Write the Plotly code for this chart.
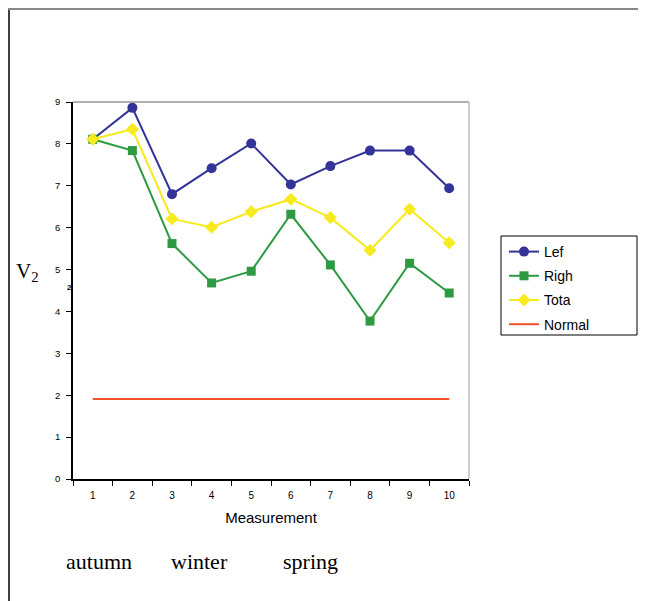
import plotly.graph_objects as go

measurements = [1, 2, 3, 4, 5, 6, 7, 8, 9, 10]
lef = [8.11, 8.86, 6.80, 7.42, 8.01, 7.03, 7.47, 7.84, 7.84, 6.94]
righ = [8.11, 7.84, 5.62, 4.68, 4.96, 6.32, 5.11, 3.77, 5.15, 4.44]
tota = [8.11, 8.35, 6.21, 6.01, 6.38, 6.68, 6.24, 5.46, 6.44, 5.64]
normal = [1.91] * 10
y_ticks = [0, 1, 2, 3, 4, 5, 6, 7, 8, 9]
seasons = ["autumn", "winter", "spring"]

OFF = 8  # page body margin offset
W, H = 646 - OFF, 601 - OFF
# plot area in screen coordinates
SL, SR, ST, SB = 73, 469, 102, 479
L, R, T, B = SL - OFF, SR - OFF, ST - OFF, SB - OFF


def px(x):
    return (x - OFF - L) / (R - L)


def py(y):
    return (B - (y - OFF)) / (B - T)


fig = go.Figure()
fig.add_trace(go.Scatter(x=measurements, y=lef, name="Lef", mode="lines+markers",
                         legendgroup="a",
                         line=dict(color="#333399", width=2),
                         marker=dict(symbol="circle", size=10, color="#333399")))
fig.add_trace(go.Scatter(x=measurements, y=righ, name="Righ", mode="lines+markers",
                         legendgroup="b",
                         line=dict(color="#2e9a41", width=2),
                         marker=dict(symbol="square", size=9, color="#2e9a41")))
fig.add_trace(go.Scatter(x=measurements, y=tota, name="Tota", mode="lines+markers",
                         legendgroup="c",
                         line=dict(color="#f7ea1e", width=2),
                         marker=dict(symbol="diamond", size=10, color="#f7ea1e")))
fig.add_trace(go.Scatter(x=measurements, y=normal, name="Normal", mode="lines",
                         legendgroup="d",
                         line=dict(color="#f2502a", width=2)))

font = dict(family="Liberation Sans, Arial", color="#000000")
fig.update_layout(
    width=W, height=H,
    margin=dict(l=L, r=W - R, t=T, b=H - B, pad=0),
    paper_bgcolor="white", plot_bgcolor="white",
    font=font,
    showlegend=True,
    legend=dict(x=px(504), y=py(236), xanchor="left", yanchor="top",
                bgcolor="rgba(0,0,0,0)", borderwidth=0,
                font=dict(family="Liberation Sans, Arial", size=14, color="#000"),
                itemwidth=30, tracegroupgap=3),
    xaxis=dict(range=[0.5, 10.5], tickmode="array", tickvals=measurements,
               ticktext=[str(m) for m in measurements], ticks="", showgrid=False,
               zeroline=False, showline=True, linecolor="#000", linewidth=1.5,
               mirror=False, tickfont=dict(size=10), ticklabelstandoff=6,
               minor=dict(tickmode="linear", tick0=0.5, dtick=1, ticks="outside",
                          ticklen=5, tickcolor="#000", showgrid=False),
               title=dict(text="Measurement", font=dict(size=15), standoff=13)),
    yaxis=dict(range=[0, 9], tickmode="array", tickvals=y_ticks, ticks="outside",
               ticklen=5, tickcolor="#000", showgrid=False, zeroline=False,
               showline=True, linecolor="#000", linewidth=1.5,
               tickfont=dict(size=9.5), ticklabelstandoff=4),
)

shapes = [
    # top & right gray plot borders
    dict(type="line", xref="paper", yref="paper", x0=0, x1=1, y0=1, y1=1,
         line=dict(color="#999999", width=1.5)),
    dict(type="line", xref="paper", yref="paper", x0=1, x1=1, y0=0, y1=1,
         line=dict(color="#bbbbbb", width=1.5)),
    # legend box
    dict(type="rect", xref="paper", yref="paper",
         x0=px(501), x1=px(637), y0=py(335), y1=py(236),
         line=dict(color="#000", width=1)),
    # outer frame lines
    dict(type="line", xref="paper", yref="paper",
         x0=px(9), x1=px(9), y0=py(610), y1=py(9),
         line=dict(color="#000", width=1.5)),
    dict(type="line", xref="paper", yref="paper",
         x0=px(8), x1=px(660), y0=py(9), y1=py(9),
         line=dict(color="#888888", width=2)),
]
fig.update_layout(shapes=shapes)

annotations = [
    dict(text="V<sub>2</sub>", x=px(14), y=py(272), xref="paper", yref="paper",
         xanchor="left", yanchor="middle", showarrow=False,
         font=dict(family="Liberation Serif, Times New Roman", size=21, color="#000")),
    dict(text="<b>2</b>", x=px(69), y=py(287), xref="paper", yref="paper",
         xanchor="center", yanchor="middle", showarrow=False,
         font=dict(family="Liberation Sans, Arial", size=8, color="#000")),
]
for name, xpos in zip(seasons, [64, 169, 281]):
    annotations.append(dict(text=name, x=px(xpos), y=py(561), xref="paper", yref="paper",
                            xanchor="left", yanchor="middle", showarrow=False,
                            font=dict(family="Liberation Serif, Times New Roman", size=22,
                                      color="#000")))
fig.update_layout(annotations=annotations)

fig.write_html("out.html")
